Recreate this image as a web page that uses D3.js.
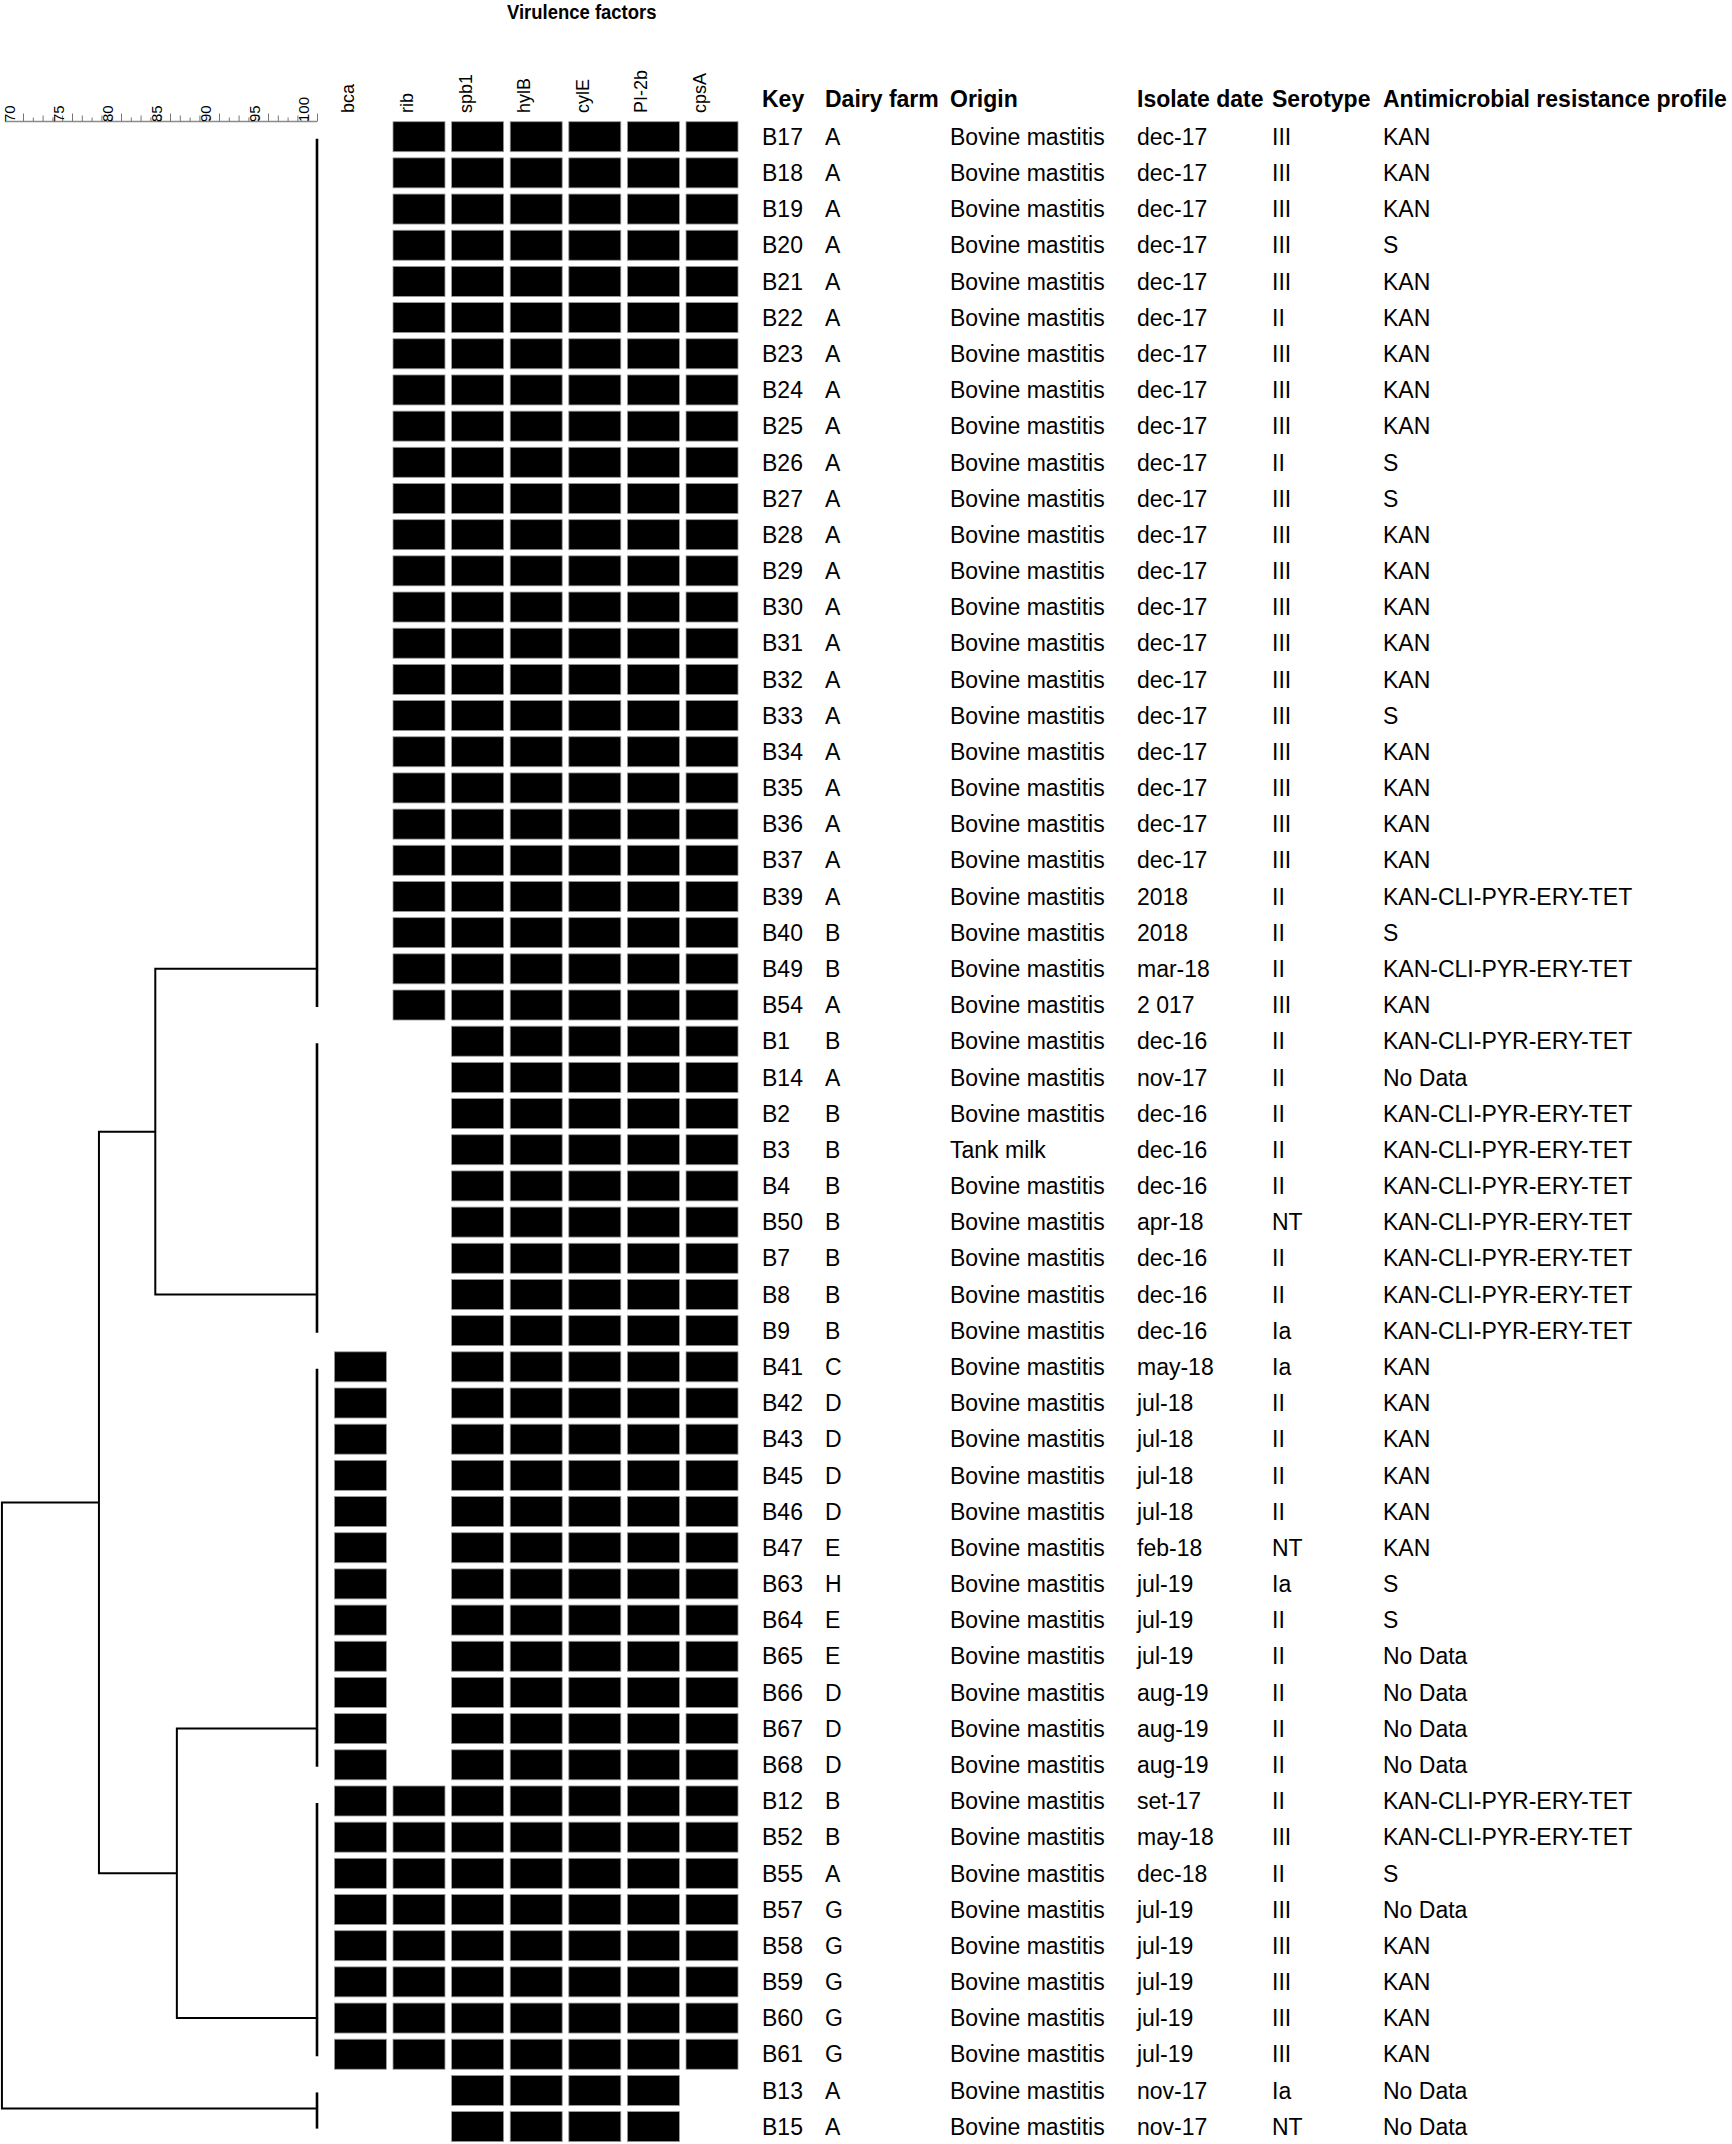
<!DOCTYPE html>
<html>
<head>
<meta charset="utf-8">
<script src="https://cdn.jsdelivr.net/npm/d3@7"></script>
<style>
  body { margin: 0; background: #fff; }
  svg { display: block; }
  text { font-family: "Liberation Sans", Arial, Helvetica, sans-serif; fill: #000; }
</style>
</head>
<body>
<script>
// isolates, in dendrogram order
var keys = ['B17','B18','B19','B20','B21','B22','B23','B24','B25','B26','B27','B28','B29',
  'B30','B31','B32','B33','B34','B35','B36','B37','B39','B40','B49','B54',
  'B1','B14','B2','B3','B4','B50','B7','B8','B9',
  'B41','B42','B43','B45','B46','B47','B63','B64','B65','B66','B67','B68',
  'B12','B52','B55','B57','B58','B59','B60','B61','B13','B15'];

var farms = ['A','A','A','A','A','A','A','A','A','A','A','A','A','A','A','A','A','A','A','A','A',
  'A','B','B','A',
  'B','A','B','B','B','B','B','B','B',
  'C','D','D','D','D','E','H','E','E','D','D','D',
  'B','B','A','G','G','G','G','G','A','A'];

var origins = keys.map(function (k) { return k === 'B3' ? 'Tank milk' : 'Bovine mastitis'; });

var dates = ['dec-17','dec-17','dec-17','dec-17','dec-17','dec-17','dec-17','dec-17','dec-17',
  'dec-17','dec-17','dec-17','dec-17','dec-17','dec-17','dec-17','dec-17','dec-17','dec-17',
  'dec-17','dec-17','2018','2018','mar-18','2 017',
  'dec-16','nov-17','dec-16','dec-16','dec-16','apr-18','dec-16','dec-16','dec-16',
  'may-18','jul-18','jul-18','jul-18','jul-18','feb-18','jul-19','jul-19','jul-19',
  'aug-19','aug-19','aug-19',
  'set-17','may-18','dec-18','jul-19','jul-19','jul-19','jul-19','jul-19','nov-17','nov-17'];

var serotypes = ['III','III','III','III','III','II','III','III','III','II','III','III','III',
  'III','III','III','III','III','III','III','III','II','II','II','III',
  'II','II','II','II','II','NT','II','II','Ia',
  'Ia','II','II','II','II','NT','Ia','II','II','II','II','II',
  'II','III','II','III','III','III','III','III','Ia','NT'];

var KCPET = 'KAN-CLI-PYR-ERY-TET';
var profiles = ['KAN','KAN','KAN','S','KAN','KAN','KAN','KAN','KAN','S','S','KAN','KAN',
  'KAN','KAN','KAN','S','KAN','KAN','KAN','KAN',KCPET,'S',KCPET,'KAN',
  KCPET,'No Data',KCPET,KCPET,KCPET,KCPET,KCPET,KCPET,KCPET,
  'KAN','KAN','KAN','KAN','KAN','KAN','S','S','No Data','No Data','No Data','No Data',
  KCPET,KCPET,'S','No Data','KAN','KAN','KAN','KAN','No Data','No Data'];

// virulence genes, presence per isolate (same order as genes)
var genes = ['bca','rib','spb1','hylB','cylE','PI-2b','cpsA'];
var genePattern = keys.map(function (k, i) {
  if (i <= 24) return '0111111';
  if (i <= 33) return '0011111';
  if (i <= 45) return '1011111';
  if (i <= 53) return '1111111';
  return '0011110';
});

var headers = ['Key','Dairy farm','Origin','Isolate date','Serotype','Antimicrobial resistance profile'];

// dendrogram: collapsed clusters (first row, last row, row the branch attaches to)
var clusterFirst  = [0, 25, 34, 46, 54];
var clusterLast   = [24, 33, 45, 53, 55];
var clusterAnchor = [23, 32, 44, 52, 54.5];
// merges: [left node, right node, similarity %]; new nodes numbered from 5
var merges = [[0, 1, 83.5], [2, 3, 85.7], [5, 6, 77.75], [7, 4, 67.85]];

var scaleTicks = d3.range(70, 101);
var scaleLabels = [70, 75, 80, 85, 90, 95, 100];

var W = 1732, H = 2144;
var svg = d3.select('body').append('svg')
  .attr('width', W)
  .attr('height', H);

var row = d3.scaleBand().domain(keys).range([121.7, 2141.6]).paddingInner(0.171);
var rowY = d3.scaleLinear().domain([0, keys.length - 1])
  .range([row(keys[0]) + row.bandwidth() / 2, row(keys[keys.length - 1]) + row.bandwidth() / 2]);
var col = d3.scaleBand().domain(genes).range([334.4, 738]).paddingInner(0.113);
var sim = d3.scaleLinear().domain([70, 100]).range([23, 317]);

// title (slightly condensed bold, as in the original)
svg.append('text')
  .attr('transform', 'translate(507,19) scale(0.88,1)')
  .style('font-size', '21px').style('font-weight', 'bold')
  .text('Virulence factors');

// similarity scale
var axisG = svg.append('g')
  .attr('transform', 'translate(0,121.5)')
  .call(d3.axisTop(sim).tickValues(scaleTicks).tickSize(5).tickFormat(''));
axisG.select('.domain').attr('stroke', '#8c8c8c').attr('stroke-width', 1.6)
  .attr('d', 'M5,0H' + sim(100));
axisG.selectAll('.tick line').attr('stroke', '#777')
  .attr('y2', function (d) { return d % 5 === 0 ? -8 : (d % 2 === 0 ? -6 : -4); });

svg.append('g').selectAll('text')
  .data(scaleLabels)
  .enter().append('text')
    .attr('transform', function (d) { return 'translate(' + (sim(d) - 8) + ',122) rotate(-90)'; })
    .style('font-size', '15px')
    .text(function (d) { return d; });

// gene column labels
svg.append('g').selectAll('text')
  .data(genes)
  .enter().append('text')
    .attr('transform', function (d) {
      return 'translate(' + (col(d) + col.bandwidth() / 2 - 6) + ',113) rotate(-90)';
    })
    .style('font-size', '18px')
    .text(function (d) { return d; });

// presence cells
var cells = [];
keys.forEach(function (k, i) {
  genes.forEach(function (g, j) {
    if (genePattern[i][j] === '1') cells.push({ key: k, gene: g });
  });
});
svg.append('g').selectAll('rect')
  .data(cells)
  .enter().append('rect')
    .attr('x', function (d) { return col(d.gene); })
    .attr('y', function (d) { return row(d.key); })
    .attr('width', col.bandwidth())
    .attr('height', row.bandwidth())
    .attr('fill', '#000')
    .attr('stroke', '#9a9a9a')
    .attr('stroke-width', 0.8);

// table
var colX = [762, 825, 950, 1137, 1272, 1383];
var columns = [keys, farms, origins, dates, serotypes, profiles];

svg.append('g').selectAll('text')
  .data(headers)
  .enter().append('text')
    .attr('x', function (d, i) { return colX[i]; })
    .attr('y', 107)
    .style('font-size', '23px').style('font-weight', 'bold')
    .text(function (d) { return d; });

var tbl = svg.append('g');
columns.forEach(function (values, c) {
  tbl.append('g').selectAll('text')
    .data(values)
    .enter().append('text')
      .attr('x', colX[c])
      .attr('y', function (d, i) { return rowY(i) + 8.2; })
      .style('font-size', '23px')
      .text(function (d) { return d; });
});

// dendrogram
var dend = svg.append('g')
  .attr('fill', 'none')
  .attr('stroke', '#000')
  .attr('stroke-width', 2);

var nodes = clusterFirst.map(function (f, i) {
  return { y: rowY(clusterAnchor[i]), s: 100 };
});
merges.forEach(function (m) {
  var a = nodes[m[0]], b = nodes[m[1]];
  nodes.push({ y: (a.y + b.y) / 2, s: m[2], a: a, b: b });
});

// leaf bars
dend.selectAll('line.leaf')
  .data(clusterFirst)
  .enter().append('line')
    .attr('class', 'leaf')
    .attr('stroke-width', 2.6)
    .attr('x1', sim(100)).attr('x2', sim(100))
    .attr('y1', function (d) { return rowY(d) + 2; })
    .attr('y2', function (d, i) { return rowY(clusterLast[i]) + 2; });

dend.selectAll('path.link')
  .data(nodes.filter(function (n) { return n.a; }))
  .enter().append('path')
    .attr('class', 'link')
    .attr('d', function (n) {
      var x = sim(n.s);
      return 'M' + sim(n.a.s) + ',' + n.a.y + 'H' + x + 'V' + n.b.y + 'H' + sim(n.b.s);
    });
</script>
</body>
</html>
